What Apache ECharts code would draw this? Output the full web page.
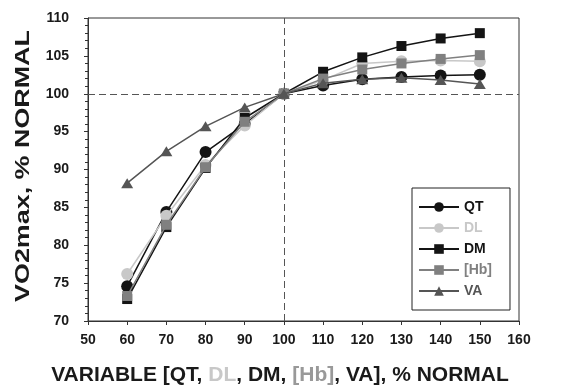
<!DOCTYPE html>
<html>
<head>
<meta charset="utf-8">
<script src="https://cdn.jsdelivr.net/npm/echarts@6/dist/echarts.min.js"></script>
<style>
  html, body { margin: 0; padding: 0; background: #fff; }
  #chart { width: 568px; height: 388px; }
</style>
</head>
<body>
<div id="chart"></div>
<script>
// x values, % normal
var xValues = [60, 70, 80, 90, 100, 110, 120, 130, 140, 150];
// VO2max, % normal for each variable
var qtValues = [74.6, 84.4, 92.3, 96.0, 100, 101.1, 101.9, 102.2, 102.4, 102.5];
var dlValues = [76.2, 83.9, 90.6, 95.8, 100, 101.8, 104.0, 104.3, 104.4, 104.3];
var dmValues = [72.9, 82.4, 90.2, 96.8, 100, 102.9, 104.8, 106.3, 107.3, 108.0];
var hbValues = [73.3, 82.7, 90.3, 96.3, 100, 102.0, 103.2, 104.0, 104.6, 105.1];
var vaValues = [88.2, 92.4, 95.7, 98.2, 100, 101.4, 101.9, 102.1, 101.8, 101.3];

var seriesNames = ["QT", "DL", "DM", "[Hb]", "VA"];
var seriesColors = ["#141414", "#c8c8c8", "#141414", "#808080", "#555555"];
var seriesSymbols = ["circle", "circle", "rect", "rect", "triangle"];

function pairs(ys) {
  return xValues.map(function (x, i) { return [x, ys[i]]; });
}

var allValues = [qtValues, dlValues, dmValues, hbValues, vaValues];
var symbolSizes = [12, 12, 10, 10, [12, 10]];

var chart = echarts.init(document.getElementById("chart"));

var series = seriesNames.map(function (name, i) {
  return {
    name: name,
    type: "line",
    data: pairs(allValues[i]),
    symbol: seriesSymbols[i],
    symbolSize: symbolSizes[i],
    showAllSymbol: true,
    color: seriesColors[i],
    lineStyle: { color: seriesColors[i], width: 1.5 },
    itemStyle: { color: seriesColors[i] },
    z: 3 + i,
    animation: false
  };
});

// dashed reference lines at 100 %
series[0].markLine = {
  silent: true,
  symbol: "none",
  label: { show: false },
  lineStyle: { color: "#555", type: [7, 4], width: 1 },
  data: [{ xAxis: 100 }, { yAxis: 100 }],
  animation: false
};

chart.setOption({
  backgroundColor: "#fff",
  animation: false,
  grid: {
    left: 88, right: 49, top: 18, bottom: 67,
    show: true, borderColor: "#333", borderWidth: 1
  },
  legend: {
    orient: "vertical",
    left: 412, top: 188,
    itemWidth: 40, itemHeight: 12, itemGap: 7,
    padding: [12, 18, 12, 6],
    backgroundColor: "#fff",
    borderColor: "#222", borderWidth: 1,
    textStyle: { fontFamily: "Liberation Sans", fontWeight: "bold", fontSize: 14 },
    data: seriesNames.map(function (n, i) {
      return { name: n, textStyle: { color: seriesColors[i] } };
    })
  },
  xAxis: {
    type: "value", min: 50, max: 160, interval: 10,
    axisLine: { lineStyle: { color: "#333" } },
    axisTick: { show: true, inside: false, length: 4, lineStyle: { color: "#333" } },
    splitLine: { show: false },
    axisLabel: { margin: 12, color: "#1a1a1a", fontFamily: "Liberation Sans", fontWeight: "bold", fontSize: 14 }
  },
  yAxis: {
    type: "value", min: 70, max: 110, interval: 5,
    axisLine: { show: true, lineStyle: { color: "#333" } },
    axisTick: { show: true, inside: false, length: 4, lineStyle: { color: "#333" } },
    minorTick: { show: true, splitNumber: 5, length: 3, lineStyle: { color: "#333" } },
    splitLine: { show: false },
    axisLabel: { margin: 19, color: "#1a1a1a", fontFamily: "Liberation Sans", fontWeight: "bold", fontSize: 14 }
  },
  graphic: [
    {
      type: "text",
      x: 23, y: 166,
      rotation: Math.PI / 2,
      scaleX: 1.28,
      style: {
        text: "VO2max, % NORMAL",
        x: 0, y: 0,
        align: "center", verticalAlign: "middle",
        fill: "#1a1a1a",
        font: "bold 21px 'Liberation Sans'"
      }
    },
    {
      type: "text",
      x: 280, y: 375,
      style: {
        text: "VARIABLE [QT, {dl|DL}, DM, {hb|[Hb]}, VA], % NORMAL",
        x: 0, y: 0,
        align: "center", verticalAlign: "middle",
        fill: "#1a1a1a",
        font: "bold 21px 'Liberation Sans'",
        rich: {
          dl: { fill: "#c8c8c8", font: "bold 21px 'Liberation Sans'" },
          hb: { fill: "#999999", font: "bold 21px 'Liberation Sans'" }
        }
      }
    }
  ],
  series: series
});
</script>
</body>
</html>
